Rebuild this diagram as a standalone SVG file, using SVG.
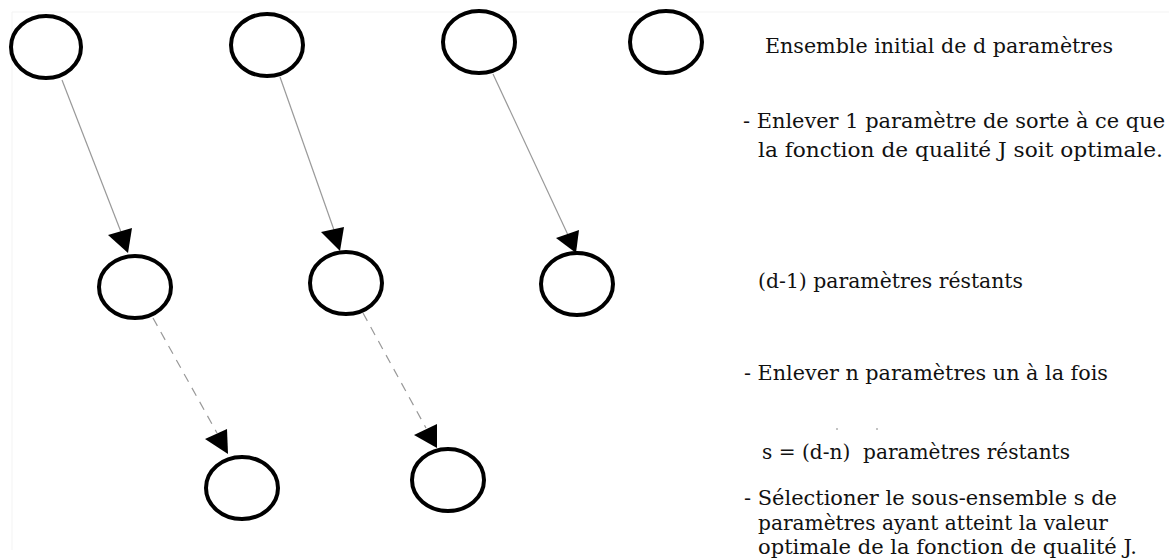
<svg xmlns="http://www.w3.org/2000/svg" width="1169" height="559" viewBox="0 0 1169 559">
<style>
.node{fill:none;stroke:#000;stroke-width:4}
.edge{stroke:#999;stroke-width:1.2;fill:none}
.dash{stroke-dasharray:9 7}
.head{fill:#000}
text{font-family:'DejaVu Serif','Liberation Serif',serif;font-size:21px;fill:#111}
</style>
<rect width="1169" height="559" fill="#fff"/>
<g id="frame" stroke="#f3f3f3" stroke-width="1">
<line x1="12" y1="12" x2="1169" y2="12"/>
<line x1="12" y1="12" x2="12" y2="550"/>
</g>
<g id="connectors">
<line class="edge" x1="62" y1="80" x2="121" y2="232"/>
<polygon class="head" points="108,235 132,228 128,253"/>
<line class="edge" x1="280" y1="77" x2="334" y2="230"/>
<polygon class="head" points="321,232 344,227 340,251"/>
<line class="edge" x1="493" y1="74" x2="568" y2="235"/>
<polygon class="head" points="556,238 579,230 576,253"/>
<line class="edge dash" x1="153" y1="318" x2="217" y2="433"/>
<polygon class="head" points="205,439 227,429 228,454"/>
<line class="edge dash" x1="363" y1="313" x2="426" y2="428"/>
<polygon class="head" points="414,435 437,424 437,448"/>
</g>
<g id="n1"><ellipse class="node" cx="46" cy="47" rx="35" ry="31"/></g>
<g id="n2"><ellipse class="node" cx="267" cy="45" rx="36" ry="31"/></g>
<g id="n3"><ellipse class="node" cx="479" cy="42" rx="36" ry="31"/></g>
<g id="n4"><ellipse class="node" cx="666" cy="42" rx="36" ry="31"/></g>
<g id="n5"><ellipse class="node" cx="135" cy="287" rx="36" ry="31"/></g>
<g id="n6"><ellipse class="node" cx="346" cy="283" rx="36" ry="31"/></g>
<g id="n7"><ellipse class="node" cx="577" cy="284" rx="36" ry="31"/></g>
<g id="n8"><ellipse class="node" cx="242" cy="488" rx="36" ry="31"/></g>
<g id="n9"><ellipse class="node" cx="448" cy="480" rx="36" ry="31"/></g>
<g id="labels">
<text x="765" y="53" textLength="348" lengthAdjust="spacingAndGlyphs">Ensemble initial de d paramètres</text>
<text x="743" y="128" textLength="422" lengthAdjust="spacingAndGlyphs">- Enlever 1 paramètre de sorte à ce que</text>
<text x="758" y="157" textLength="405" lengthAdjust="spacingAndGlyphs">la fonction de qualité J soit optimale.</text>
<text x="758" y="288" textLength="265" lengthAdjust="spacingAndGlyphs">(d-1) paramètres réstants</text>
<text x="744" y="380" textLength="364" lengthAdjust="spacingAndGlyphs">- Enlever n paramètres un à la fois</text>
<circle cx="837" cy="429" r="0.8" fill="#777"/>
<circle cx="877" cy="429" r="0.8" fill="#777"/>
<text x="762" y="459" textLength="308" lengthAdjust="spacingAndGlyphs" xml:space="preserve">s = (d-n)  paramètres réstants</text>
<text x="744" y="505" textLength="373" lengthAdjust="spacingAndGlyphs">- Sélectioner le sous-ensemble s de</text>
<text x="758" y="530" textLength="350" lengthAdjust="spacingAndGlyphs">paramètres ayant atteint la valeur</text>
<text x="758" y="554" textLength="379" lengthAdjust="spacingAndGlyphs">optimale de la fonction de qualité J.</text>
</g>
</svg>
